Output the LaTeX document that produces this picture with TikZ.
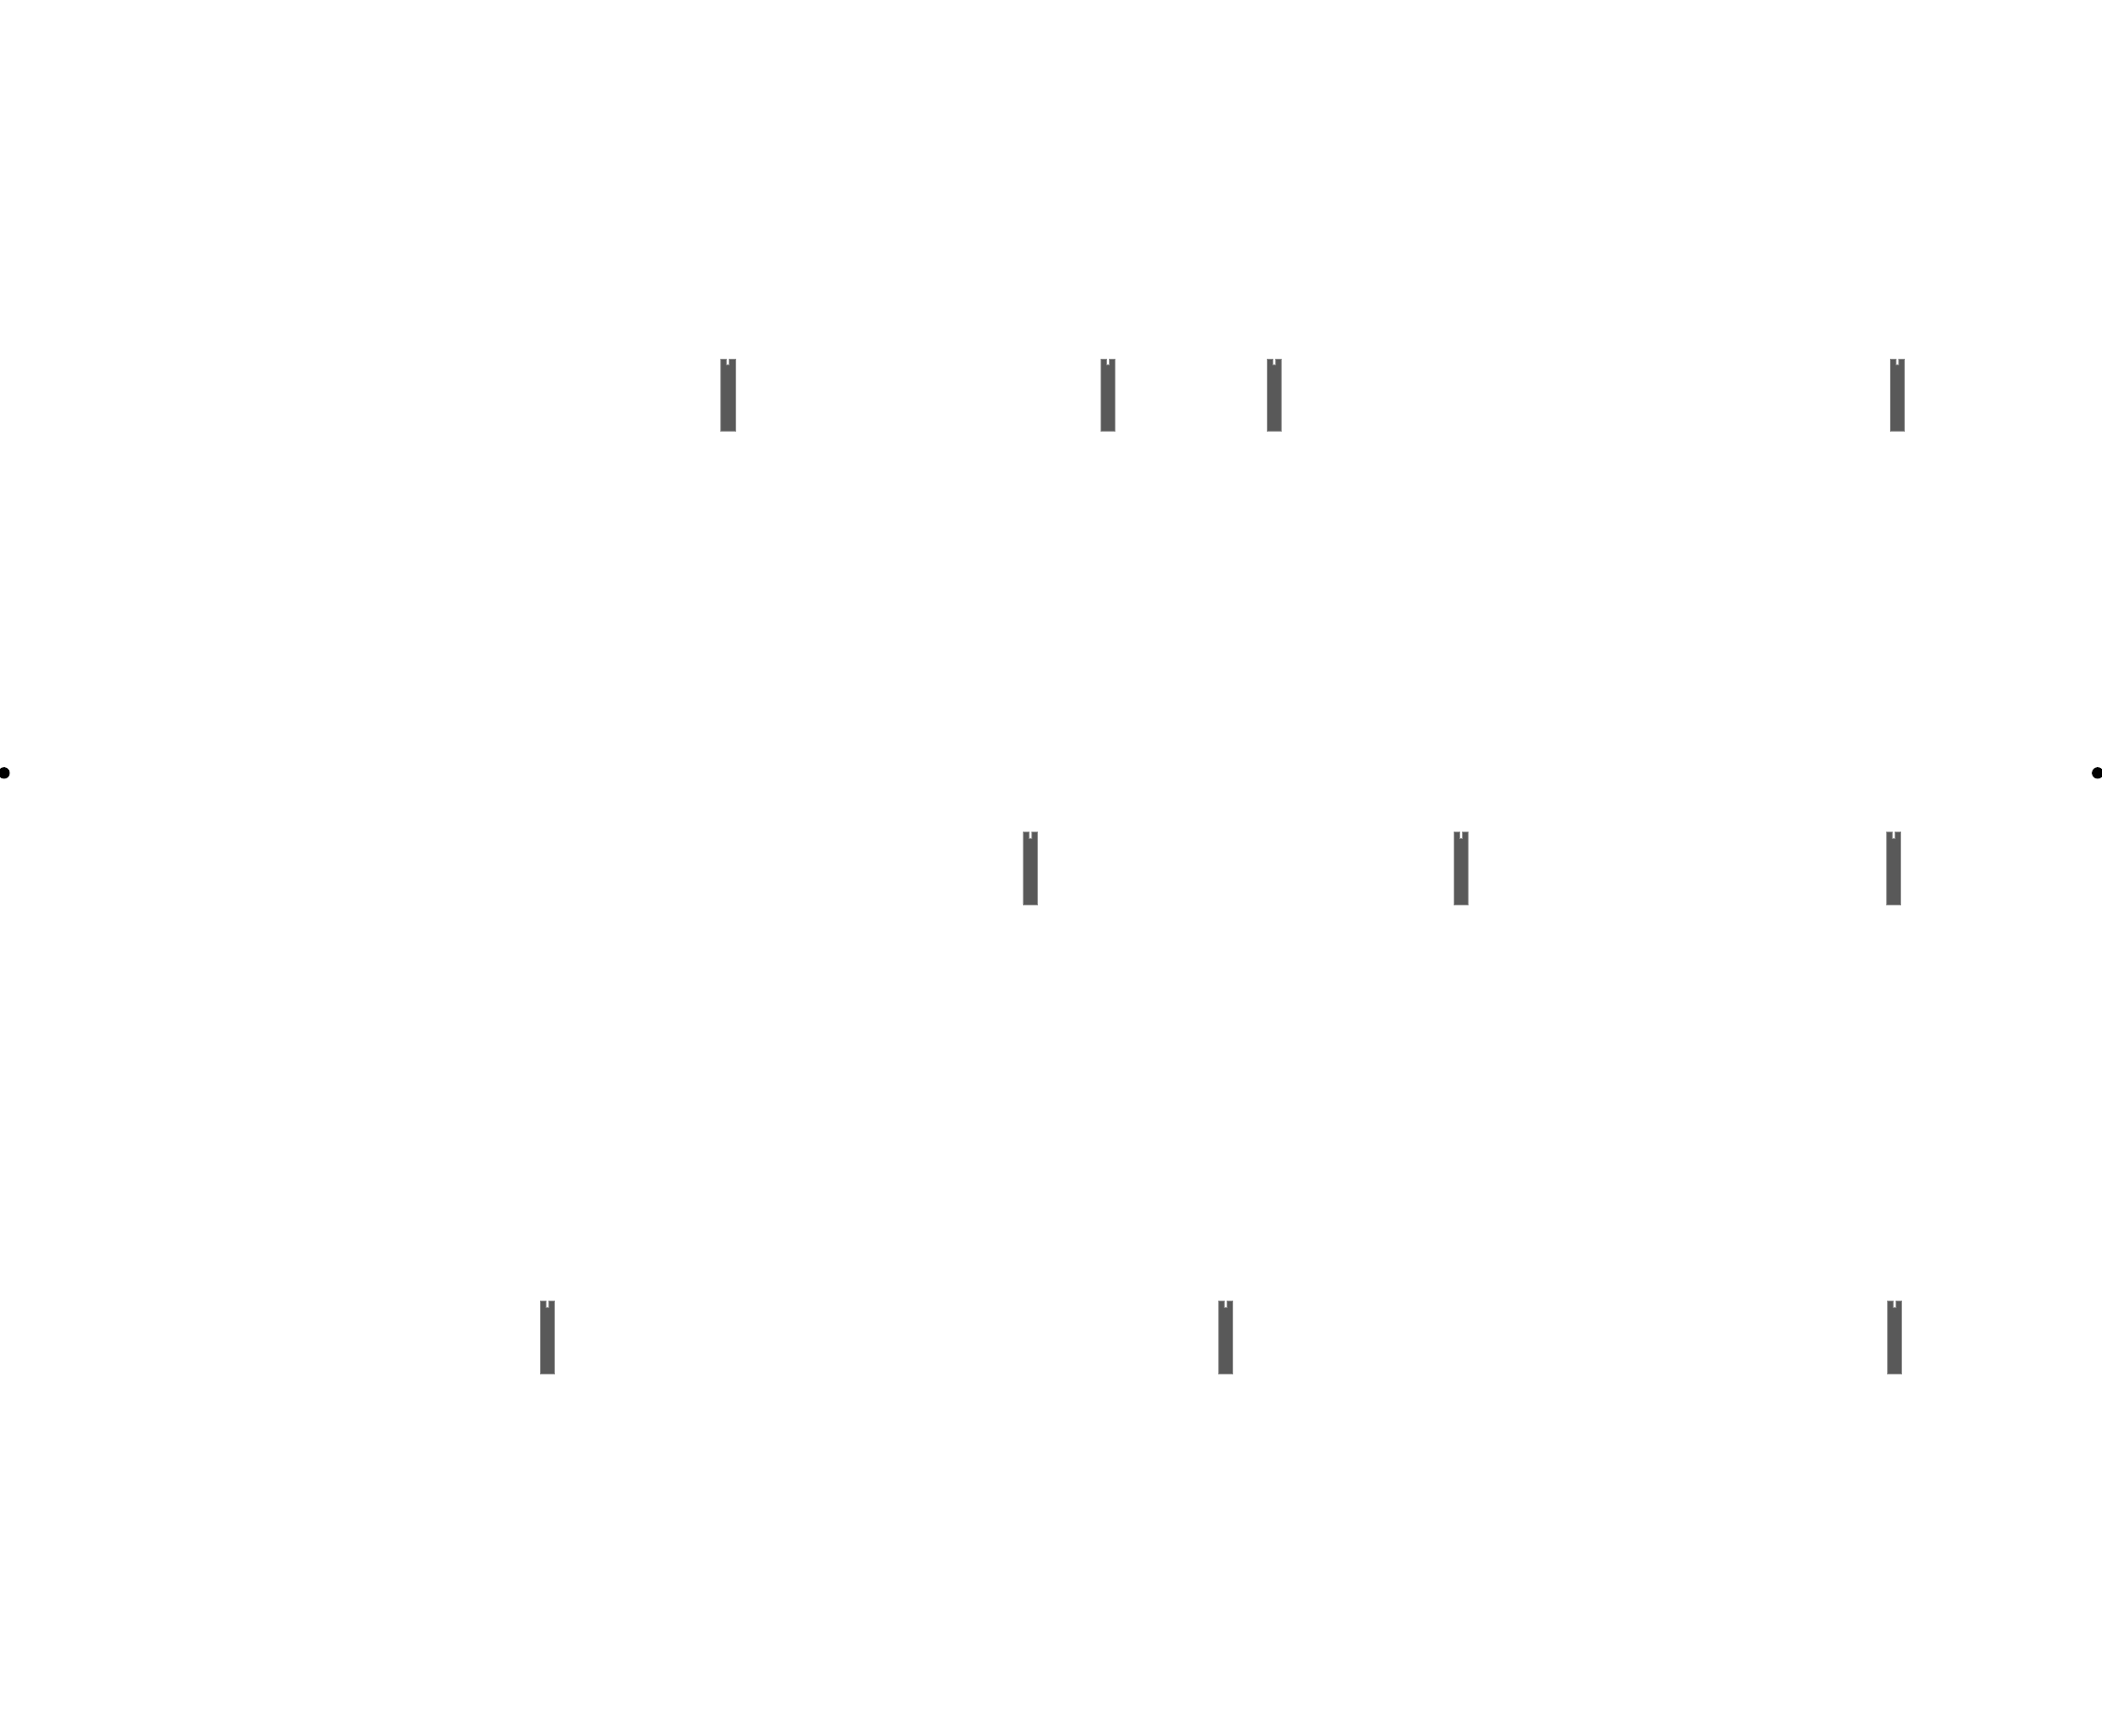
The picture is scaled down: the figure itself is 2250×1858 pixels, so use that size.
\documentclass[tikz,border=0pt]{standalone}
\usetikzlibrary{positioning}
\definecolor{bargray}{RGB}{89,89,89}
\tikzset{pinbar/.pic={
    \fill[bargray, draw=bargray!70, line width=0.3pt]
      (-7.6,0) -- (-1.5,0) -- (-1.5,6.7) -- (1.5,6.7) -- (1.5,0) -- (7.6,0)
      -- (7.6,77.5) -- (-7.6,77.5) -- cycle;
  }}
\tikzset{enddot/.style={circle, fill=black, inner sep=0pt, minimum size=7}}
\begin{document}
\begin{tikzpicture}[x=0.02cm, y=-0.02cm]
    \useasboundingbox (0,0) rectangle (2250,1858);
    % end points
    \node[enddot] (L) at (4.3,827.3) {};
    \node[enddot] (R) at (2245.3,827.3) {};
    % rows of pins
    \foreach \px in {779.2, 1186, 1363.7, 2030.8}
        \pic at (\px,384) {pinbar};
    \foreach \px in {1102.5, 1564, 2027}
        \pic at (\px,890.3) {pinbar};
    \foreach \px in {586, 1312, 2028}
        \pic at (\px,1392.3) {pinbar};
\end{tikzpicture}
\end{document}
